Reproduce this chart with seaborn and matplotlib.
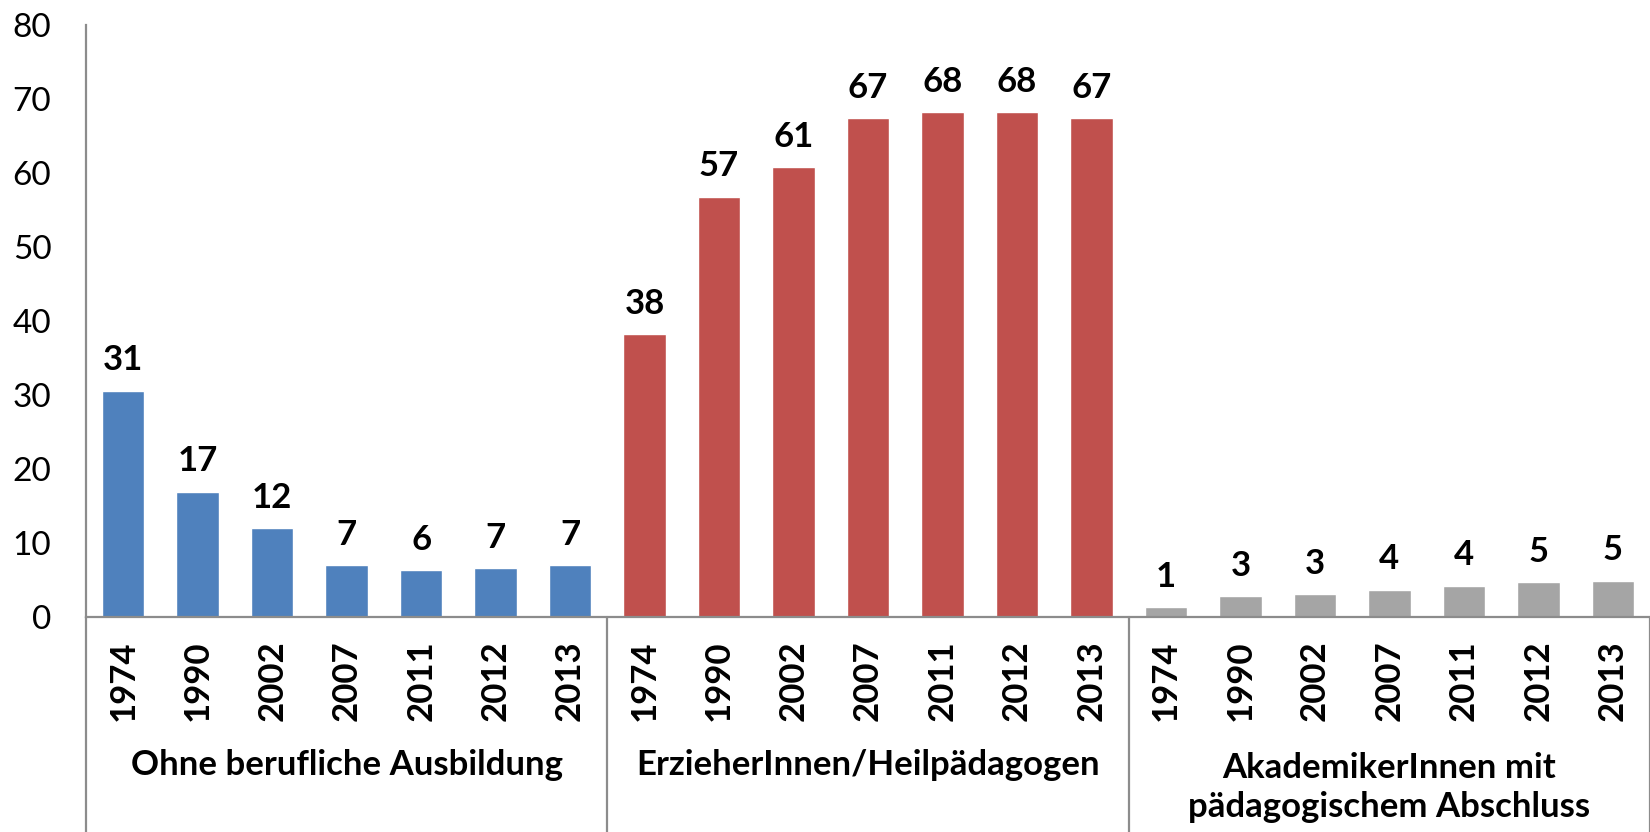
import numpy as np
import pandas as pd
import matplotlib
matplotlib.use("Agg")
import matplotlib.pyplot as plt
import matplotlib.transforms as mtransforms
import seaborn as sns

# data
years = ["1974", "1990", "2002", "2007", "2011", "2012", "2013"]
groups = ["Ohne berufliche Ausbildung",
          "ErzieherInnen/Heilpädagogen",
          "AkademikerInnen mit\npädagogischem Abschluss"]
ohne = [30.6, 16.9, 12.0, 7.0, 6.3, 6.6, 7.0]
erzieher = [38.2, 56.8, 60.8, 67.4, 68.2, 68.2, 67.4]
akademiker = [1.3, 2.8, 3.1, 3.7, 4.2, 4.7, 4.9]
colors = ["#4F81BD", "#C0504D", "#A5A5A5"]

rows = []
for grp, vals in zip(groups, [ohne, erzieher, akademiker]):
    for yr, v in zip(years, vals):
        rows.append({"key": grp + "|" + yr, "year": yr, "group": grp, "value": v})
df = pd.DataFrame(rows)

sns.set_style("white")
plt.rcParams['font.family'] = ['Lato', 'DejaVu Sans']
plt.rcParams['text.color'] = 'black'
plt.rcParams['xtick.color'] = 'black'
plt.rcParams['ytick.color'] = 'black'

fig = plt.figure(figsize=(16.5, 8.32), dpi=100)
ax = fig.add_axes([86 / 1650, 215 / 832, 1564 / 1650, 592 / 832])

sns.barplot(data=df, x="key", y="value", hue="group", order=list(df["key"]),
            hue_order=groups, palette=colors, dodge=False, width=0.57,
            saturation=1, legend=False, ax=ax)

ax.set_xlim(-0.5, len(df) - 0.5)
ax.set_ylim(0, 80)
ax.set_yticks(range(0, 81, 10))
ax.set_yticklabels([str(v) for v in range(0, 81, 10)], fontsize=24)
ax.set_xticks(range(len(df)))
ax.set_xticklabels(df["year"], rotation=90, fontsize=25, fontweight="bold")
ax.tick_params(axis="both", length=0, labelcolor="black")
ax.tick_params(axis="y", pad=25)
ax.tick_params(axis="x", pad=17)
ax.set_xlabel("")
ax.set_ylabel("")

for s in ["top", "right"]:
    ax.spines[s].set_visible(False)
for s in ["left", "bottom"]:
    ax.spines[s].set_color("#8C8C8C")
    ax.spines[s].set_linewidth(1.6)

# value labels
for i, v in enumerate(df["value"]):
    ax.annotate(str(int(round(v))), (i, v), xytext=(0, 22), textcoords="offset points",
                ha="center", va="center", fontsize=25, fontweight="bold", color="black")

# group separators and group labels below the axis
trans = mtransforms.blended_transform_factory(ax.transData, ax.transAxes)
n = len(years)
for k in range(len(groups) + 1):
    x = k * n - 0.5
    ax.plot([x, x], [0, -0.37], transform=trans, color="#8C8C8C", lw=1.6, clip_on=False)
for k, grp in enumerate(groups):
    xc = k * n + (n - 1) / 2
    if "\n" in grp:
        ax.text(xc, -0.288, grp, transform=trans, ha="center", va="center",
                fontsize=25, fontweight="bold", linespacing=1.25, color="black")
    else:
        ax.text(xc, -0.25, grp, transform=trans, ha="center", va="center",
                fontsize=25, fontweight="bold", color="black")

fig.savefig("out.png", dpi=100)
